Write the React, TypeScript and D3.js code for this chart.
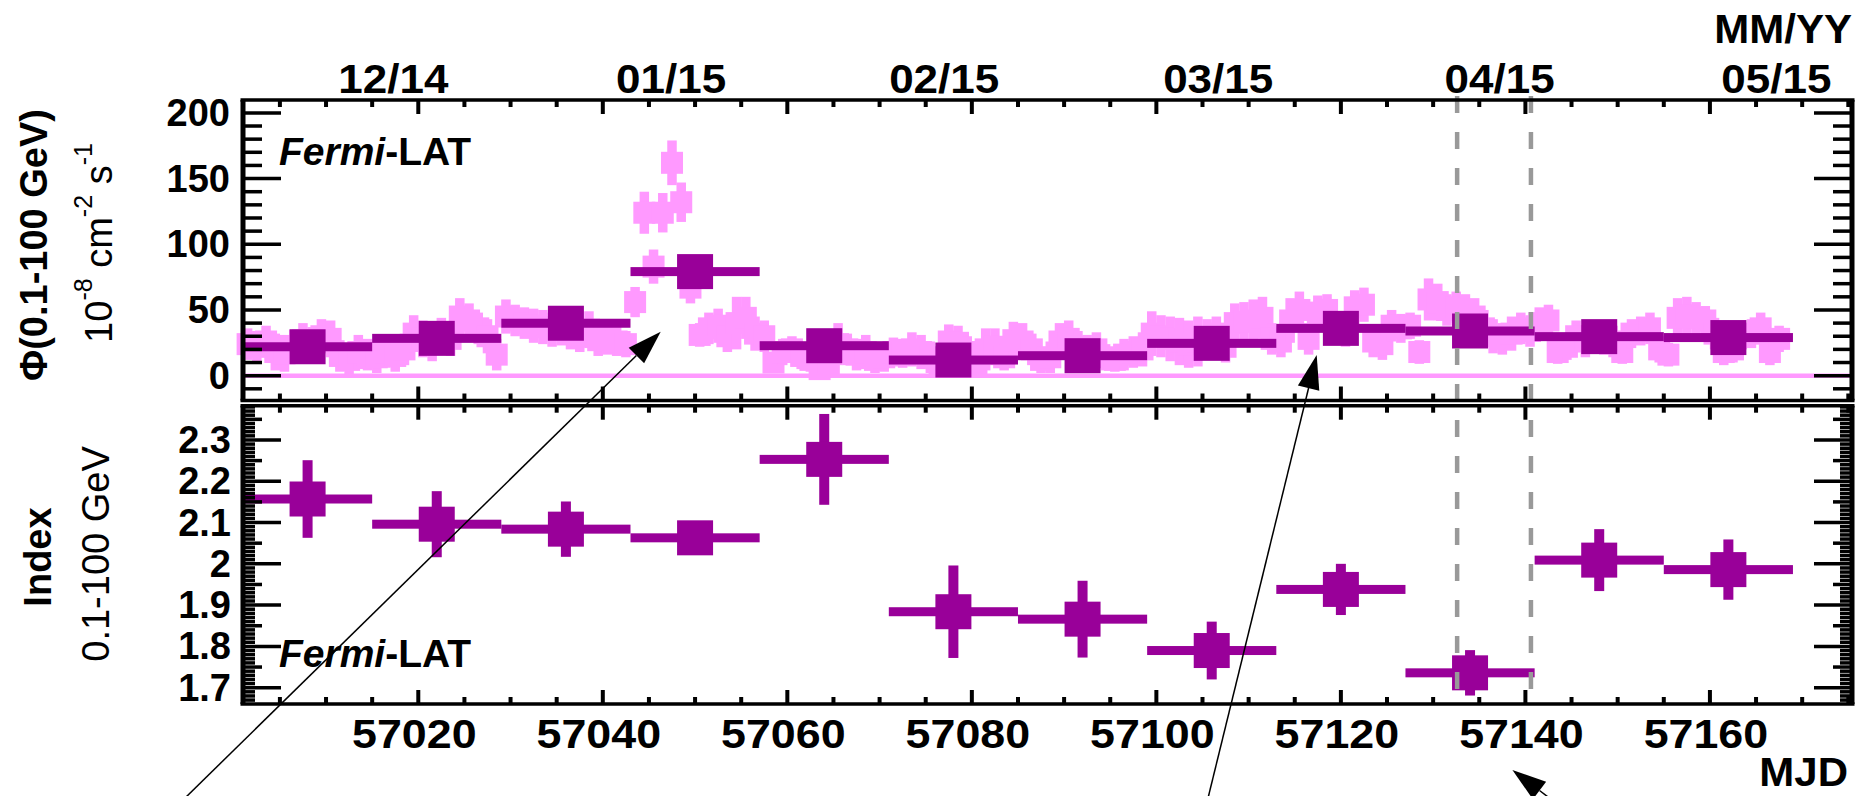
import React, { useEffect, useRef } from 'react'
import * as d3 from 'd3'

const W = 1866
const H = 796
const FONT = '"Liberation Sans", Arial, Helvetica, sans-serif'

const PURPLE = '#990099'
const PINK = '#ff99ff'
const DASH_COLOR = '#999999'

// 14-day bins (MJD start), flux in 1e-8 cm^-2 s^-1 and photon index
const BIN_START = [57001, 57015, 57029, 57043, 57057, 57071, 57085, 57099, 57113, 57127, 57141, 57155]
const BIN_DAYS = 14
const FLUX_14D = [22.0, 28.4, 39.9, 79.2, 22.8, 11.9, 15.2, 24.6, 36.0, 34.0, 29.7, 29.0]
const FLUX_14D_ERR = [4, 4, 5, 6, 4, 3, 3, 4, 5, 5, 4, 4]
const INDEX_14D = [2.157, 2.096, 2.084, 2.063, 2.253, 1.884, 1.866, 1.79, 1.938, 1.736, 2.009, 1.986]
const INDEX_14D_ERR = [0.094, 0.08, 0.067, 0.03, 0.11, 0.112, 0.093, 0.07, 0.062, 0.055, 0.075, 0.073]

// daily bins starting at MJD 57001
const DAY0 = 57001
const FLUX_1D = [
  24, 22, 26, 18, 17, 22, 27, 24, 30, 28,
  15, 12, 18, 16, 14, 18, 15, 20, 32, 28,
  24, 30, 28, 45, 42, 36, 30, 16, 45, 42,
  40, 38, 37, 35, 36, 32, 30, 35, 27, 28,
  26, 24, 56, 124, 83, 124, 162, 132, 67, 31,
  36, 38, 30, 40, 44, 32, 30, 10, 18, 20,
  15, 12, 5, 8, 24, 20, 16, 18, 12, 14,
  18, 17, 20, 18, 14, 8, 26, 25, 18, 8,
  20, 22, 14, 27, 26, 20, 12, 14, 26, 28,
  22, 18, 20, 14, 12, 16, 18, 20, 32, 30,
  28, 26, 24, 26, 28, 32, 22, 40, 41, 42,
  44, 28, 26, 42, 50, 28, 48, 50, 36, 34,
  52, 54, 26, 24, 38, 36, 38, 18, 58, 56,
  50, 52, 48, 45, 36, 30, 28, 32, 36, 34,
  40, 42, 18, 22, 30, 26, 30, 28, 26, 18,
  32, 34, 36, 20, 16, 44, 46, 44, 42, 32,
  18, 20, 30, 32, 36, 18, 28,
]
const FLUX_1D_ERR = [
  12, 12, 12, 14, 14, 13, 13, 13, 13, 14,
  12, 12, 13, 12, 12, 12, 12, 12, 14, 14,
  13, 14, 13, 14, 13, 12, 13, 12, 13, 12,
  12, 13, 13, 13, 13, 12, 12, 14, 12, 12,
  11, 10, 11.5, 16, 13, 15, 17, 15, 12, 9,
  12, 13, 12, 20, 16, 13, 12, 8, 10, 10,
  10, 9, 7, 8, 16, 12, 12, 13, 10, 11,
  11, 11, 13, 13, 12, 8, 13, 13, 12, 8,
  16, 14, 10, 14, 14, 12, 10, 12, 14, 14,
  12, 13, 13, 10, 9, 12, 12, 13, 17, 16,
  17, 18, 18, 19, 15, 13, 12, 15, 15, 16,
  16, 12, 12, 17, 14, 12, 13, 12, 12, 12,
  13, 13, 12, 12, 12, 11, 10, 9, 16, 14,
  12, 12, 14, 14, 14, 13, 12, 13, 12, 12,
  12, 12, 9, 10, 12, 12, 12, 12, 12, 9,
  11, 11, 12, 10, 9, 15, 14, 12, 11, 12,
  10, 10, 10, 11, 12, 10, 10,
]

// axis labels
const MJD_LABELS = [57020, 57040, 57060, 57080, 57100, 57120, 57140, 57160]
const MONTH_LABELS = ['12/14', '01/15', '02/15', '03/15', '04/15', '05/15']
const MONTH_POS = [57017.3, 57047.4, 57077.0, 57106.7, 57137.2, 57167.2]
const FLUX_LABELS = [0, 50, 100, 150, 200]
const INDEX_LABELS = [1.7, 1.8, 1.9, 2.0, 2.1, 2.2, 2.3]
const DASHED_MJD = [57132.6, 57140.6]

export default function App() {
  const svgRef = useRef<SVGSVGElement>(null)

  useEffect(() => {
    if (!svgRef.current) return
    const svg = d3.select(svgRef.current)
    svg.selectAll('*').remove()

    const L = 243, R = 1852
    const x = d3.scaleLinear().domain([57001, 57175.4]).range([L, R])
    const yF = d3.scaleLinear().domain([-18.9, 209.8]).range([400.5, 100])
    const yI = d3.scaleLinear().domain([1.6605, 2.383]).range([704, 405.7])

    const g = svg.append('g')

    // daily points (pink)
    const daily = FLUX_1D.map((v, i) => ({ t: DAY0 + i + 0.5, v, e: FLUX_1D_ERR[i] }))
    const pk = g.append('g').attr('fill', PINK)
    daily.forEach(d => {
      const cx = x(d.t), cy = yF(d.v)
      pk.append('rect').attr('x', cx - 4.75).attr('width', 9.5)
        .attr('y', yF(d.v + d.e)).attr('height', yF(d.v - d.e) - yF(d.v + d.e))
      pk.append('rect').attr('x', x(d.t - 0.5)).attr('width', x(d.t + 0.5) - x(d.t - 0.5))
        .attr('y', cy - 4).attr('height', 8)
      pk.append('rect').attr('x', cx - 11).attr('y', cy - 11).attr('width', 22).attr('height', 22)
    })

    // zero line
    g.append('line').attr('x1', L).attr('x2', R).attr('y1', yF(0)).attr('y2', yF(0))
      .attr('stroke', PINK).attr('stroke-width', 4.5)

    // 14-day points (purple) in both panels
    const crosses = (vals: number[], errs: number[], y: d3.ScaleLinear<number, number>) => {
      const pg = g.append('g').attr('fill', PURPLE)
      vals.forEach((v, i) => {
        const t0 = BIN_START[i], t1 = t0 + BIN_DAYS
        const cx = x(t0 + BIN_DAYS / 2), cy = y(v)
        pg.append('rect').attr('x', x(t0)).attr('width', x(t1) - x(t0)).attr('y', cy - 4.5).attr('height', 9)
        pg.append('rect').attr('x', cx - 5).attr('width', 10)
          .attr('y', y(v + errs[i])).attr('height', y(v - errs[i]) - y(v + errs[i]))
        pg.append('rect').attr('x', cx - 18).attr('y', cy - 17.5).attr('width', 36).attr('height', 35)
      })
    }
    crosses(FLUX_14D, FLUX_14D_ERR, yF)
    crosses(INDEX_14D, INDEX_14D_ERR, yI)

    // dashed vertical lines
    DASHED_MJD.forEach(t => {
      g.append('line').attr('x1', x(t)).attr('x2', x(t)).attr('y1', 96).attr('y2', 704)
        .attr('stroke', DASH_COLOR).attr('stroke-width', 4.5).attr('stroke-dasharray', '17 19')
    })

    // frames and ticks
    const ax = svg.append('g').attr('stroke', '#000').attr('fill', 'none')
    const panels = [
      { top: 100, bot: 400.5, y: yF, ticks: d3.range(-10, 201, 10), len: (v: number) => (v % 50 === 0 ? 38 : 19) },
      {
        top: 405.7, bot: 704, y: yI, ticks: d3.range(167, 239).map(v => v / 100),
        len: (v: number) => {
          const k = Math.round(v * 100)
          return k % 10 === 0 ? 38 : k % 5 === 0 ? 19 : 12
        },
      },
    ]
    const xt = d3.range(57005, 57176, 5)
    panels.forEach(p => {
      xt.forEach(t => {
        const len = t % 20 === 0 ? 14 : 7
        ax.append('line').attr('x1', x(t)).attr('x2', x(t)).attr('y1', p.top).attr('y2', p.top + len).attr('stroke-width', 4)
        ax.append('line').attr('x1', x(t)).attr('x2', x(t)).attr('y1', p.bot).attr('y2', p.bot - len).attr('stroke-width', 4)
      })
      p.ticks.forEach(v => {
        const yy = p.y(v)
        if (yy < p.top || yy > p.bot) return
        const len = p.len(v)
        ax.append('line').attr('x1', L).attr('x2', L + len).attr('y1', yy).attr('y2', yy).attr('stroke-width', 3.5)
        ax.append('line').attr('x1', R).attr('x2', R - len).attr('y1', yy).attr('y2', yy).attr('stroke-width', 3.5)
      })
      ax.append('line').attr('x1', L - 2.5).attr('x2', R + 2.5).attr('y1', p.top).attr('y2', p.top).attr('stroke-width', 3.5)
      ax.append('line').attr('x1', L - 2.5).attr('x2', R + 2.5).attr('y1', p.bot).attr('y2', p.bot).attr('stroke-width', 3.5)
      ax.append('line').attr('x1', L).attr('x2', L).attr('y1', p.top).attr('y2', p.bot).attr('stroke-width', 5)
      ax.append('line').attr('x1', R).attr('x2', R).attr('y1', p.top).attr('y2', p.bot).attr('stroke-width', 5)
    })

    // text (labels are a little wider than plain Arial in the original)
    const txt = svg.append('g').attr('font-family', FONT).attr('fill', '#000')
    const bold = (s: string, xx: number, yy: number, size: number, anchor = 'middle', sx = 1) =>
      txt.append('text').attr('transform', `translate(${xx},${yy}) scale(${sx},1)`).attr('font-size', size)
        .attr('font-weight', 'bold').attr('text-anchor', anchor).text(s)

    FLUX_LABELS.forEach(v => bold(String(v), 230, yF(v) + 13, 38, 'end'))
    INDEX_LABELS.forEach(v => bold(String(Math.round(v * 10) / 10), 231, yI(v) + 13, 38, 'end'))
    MJD_LABELS.forEach(t => bold(String(t), x(t) - 4, 748, 40, 'middle', 1.12))
    MONTH_LABELS.forEach((s, i) => bold(s, x(MONTH_POS[i]), 93, 40, 'middle', 1.1))
    bold('MM/YY', 1852, 43, 40, 'end', 1.05)
    bold('MJD', 1848, 786, 40, 'end', 1.05)

    const fermi = (yy: number) => {
      const t = txt.append('text').attr('x', 279).attr('y', yy).attr('font-size', 39).attr('font-weight', 'bold')
      t.append('tspan').attr('font-style', 'italic').text('Fermi')
      t.append('tspan').text('-LAT')
    }
    fermi(165)
    fermi(667)

    // y titles (rotated)
    const rot = (xx: number, yy: number) =>
      txt.append('text').attr('transform', `translate(${xx},${yy}) rotate(-90)`).attr('text-anchor', 'middle')
    rot(47, 245).attr('font-size', 38).attr('font-weight', 'bold').text('Φ(0.1-100 GeV)')
    const u = rot(112, 243).attr('font-size', 38)
    u.append('tspan').text('10')
    u.append('tspan').attr('dy', -20).attr('font-size', 25).text('-8')
    u.append('tspan').attr('dy', 20).text(' cm')
    u.append('tspan').attr('dy', -20).attr('font-size', 25).text('-2')
    u.append('tspan').attr('dy', 20).text(' s')
    u.append('tspan').attr('dy', -20).attr('font-size', 25).text('-1')
    rot(51, 557).attr('font-size', 38).attr('font-weight', 'bold').text('Index')
    rot(109, 554).attr('font-size', 38).text('0.1-100 GeV')

    // annotation arrows
    const arrows = [
      { from: [182, 801], to: [660.7, 331.7] },
      { from: [1207.3, 801], to: [1316.7, 355] },
      { from: [1556, 803], to: [1512.4, 770] },
    ]
    const an = svg.append('g')
    arrows.forEach(a => {
      const [x1, y1] = a.from, [x2, y2] = a.to
      const dx = x2 - x1, dy = y2 - y1, n = Math.hypot(dx, dy)
      const ux = dx / n, uy = dy / n
      const hl = 34, hw = 11
      const bx = x2 - ux * hl, by = y2 - uy * hl
      an.append('line').attr('x1', x1).attr('y1', y1).attr('x2', bx).attr('y2', by)
        .attr('stroke', '#000').attr('stroke-width', 1.5)
      an.append('path')
        .attr('d', `M${x2},${y2}L${bx - uy * hw},${by + ux * hw}L${bx + uy * hw},${by - ux * hw}Z`)
        .attr('fill', '#000')
    })
  }, [])

  return (
    <div style={{ position: 'fixed', left: 0, top: 0, width: W, height: H, background: '#fff' }}>
      <svg ref={svgRef} width={W} height={H} style={{ display: 'block' }} />
    </div>
  )
}
